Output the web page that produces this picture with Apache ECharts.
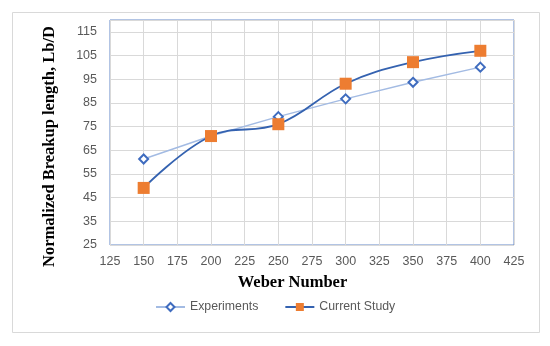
<!DOCTYPE html>
<html>
<head>
<meta charset="utf-8">
<script src="https://cdn.jsdelivr.net/npm/echarts@6/dist/echarts.min.js"></script>
<style>html,body{margin:0;padding:0;background:#fff}#c{width:550px;height:346px}</style>
</head>
<body>
<div id="c"></div>
<script>
var weber = [150, 200, 250, 300, 350, 400];
var experiments = [61.3, 71, 79.2, 86.7, 93.7, 100.1];
var currentStudy = [49.1, 71, 76, 93.1, 102.2, 107];
var seriesNames = ['Experiments', 'Current Study'];
var xTitle = 'Weber Number';
var yTitle = 'Normalized Breakup length, Lb/D';

function pairs(xs, ys) { return xs.map(function (x, i) { return [x, ys[i]]; }); }

var chart = echarts.init(document.getElementById('c'), null, {renderer: 'canvas'});
var labelStyle = {color: '#595959', fontFamily: 'Liberation Sans', fontSize: 12.5};
var titleFont = {fontFamily: 'Liberation Serif', fontWeight: 'bold', fontSize: 16.5, fill: '#000'};
chart.setOption({
  animation: false,
  backgroundColor: '#fff',
  graphic: [{
    type: 'rect', shape: {x: 12.5, y: 12.5, width: 527, height: 320},
    style: {fill: 'none', stroke: '#d9d9d9', lineWidth: 1}, z: -1
  }, {
    type: 'text', x: 50, y: 146.5, rotation: Math.PI / 2,
    style: Object.assign({text: yTitle, textAlign: 'center', textVerticalAlign: 'middle'}, titleFont)
  }, {
    type: 'text', x: 292.5, y: 283,
    style: Object.assign({text: xTitle, textAlign: 'center', textVerticalAlign: 'middle'}, titleFont)
  }],
  grid: {left: 110, right: 36, top: 20, bottom: 101, show: true, borderColor: '#6488c8', borderWidth: 1},
  xAxis: {
    type: 'value', min: 125, max: 425, interval: 25,
    axisLine: {show: false}, axisTick: {show: false},
    axisLabel: Object.assign({margin: 10}, labelStyle),
    splitLine: {show: true, lineStyle: {color: '#d9d9d9', width: 1}}
  },
  yAxis: {
    type: 'value', min: 25, max: 120, interval: 10,
    axisLine: {show: false}, axisTick: {show: false},
    axisLabel: Object.assign({margin: 13, showMaxLabel: false}, labelStyle),
    splitLine: {show: true, lineStyle: {color: '#d9d9d9', width: 1}}
  },
  legend: {
    left: 155, top: 301, padding: 0, itemWidth: 29, itemHeight: 10, itemGap: 26,
    textStyle: {color: '#595959', fontFamily: 'Liberation Sans', fontSize: 12.3},
    data: seriesNames
  },
  series: [{
    name: seriesNames[0], type: 'line', data: pairs(weber, experiments),
    symbol: 'diamond', symbolSize: 9,
    lineStyle: {color: '#a3bbe3', width: 1.5},
    itemStyle: {color: '#fff', borderColor: '#3f6cbf', borderWidth: 2},
    z: 2
  }, {
    name: seriesNames[1], type: 'line', data: pairs(weber, currentStudy),
    smooth: 0.4, symbol: 'rect', symbolSize: 12,
    lineStyle: {color: '#3462b0', width: 1.8},
    itemStyle: {color: '#ed7d31', borderWidth: 0},
    z: 3
  }]
});
</script>
</body>
</html>
